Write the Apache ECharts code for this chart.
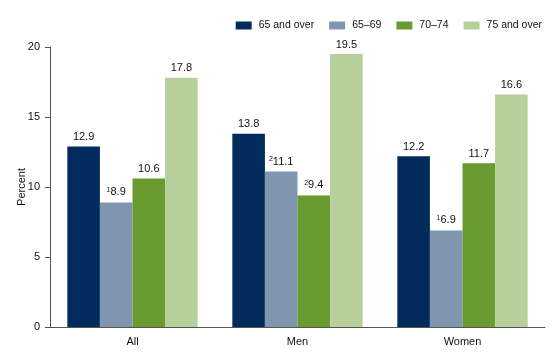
<!DOCTYPE html>
<html><head><meta charset="utf-8">
<script src="https://cdn.jsdelivr.net/npm/echarts@6/dist/echarts.min.js"></script>
<style>html,body{margin:0;padding:0;background:#fff}#c{width:560px;height:360px}</style>
</head><body><div id="c"></div>
<script>
var categories = ['All', 'Men', 'Women'];
var seriesNames = ['65 and over', '65\u201369', '70\u201374', '75 and over'];
var v65over = [12.9, 13.8, 12.2];
var v6569 = [8.9, 11.1, 6.9];
var v7074 = [10.6, 9.4, 11.7];
var v75over = [17.8, 19.5, 16.6];
var notes6569 = ['1', '2', '1'];
var notes7074 = ['', '2', ''];
var yTicks = [0, 5, 10, 15, 20];
var colors = ['#002b5c', '#7f95b0', '#6a9b30', '#b7d09b'];

var FONT = 'Liberation Sans, Arial, sans-serif';
function mk(name, vals, notes, color) {
  return {
    name: name, type: 'bar', data: vals, barGap: '0%', barCategoryGap: '21%',
    itemStyle: {color: color},
    label: {
      show: true, position: 'top', distance: 4, color: '#111', fontSize: 11, fontFamily: FONT,
      formatter: function (p) {
        var n = notes ? notes[p.dataIndex] : '';
        return (n ? '{s|' + n + '}' : '') + '{v|' + p.value.toFixed(1) + '}';
      },
      rich: {
        s: {fontSize: 7, fontFamily: FONT, color: '#111', verticalAlign: 'top', padding: [0, 0, 5, 0]},
        v: {fontSize: 11, fontFamily: FONT, color: '#111'}
      }
    }
  };
}
var chart = echarts.init(document.getElementById('c'), null, {renderer: 'canvas'});
chart.setOption({
  animation: false,
  textStyle: {fontFamily: FONT},
  legend: {
    top: 15, right: 13, itemWidth: 16, itemHeight: 8, itemGap: 15, icon: 'rect',
    textStyle: {fontSize: 10.5, color: '#111', fontFamily: FONT, padding: [0, 0, 0, 2]},
    data: seriesNames
  },
  grid: {left: 50, right: 15, top: 47, bottom: 33, containLabel: false},
  xAxis: {
    type: 'category', data: categories,
    axisLine: {lineStyle: {color: '#555', width: 1}},
    axisTick: {show: false},
    axisLabel: {fontSize: 11, color: '#111', margin: 9, fontFamily: FONT}
  },
  yAxis: {
    type: 'value', min: yTicks[0], max: yTicks[yTicks.length - 1], interval: 5,
    name: 'Percent', nameLocation: 'middle', nameGap: 23, nameMoveOverlap: false,
    nameTextStyle: {fontSize: 11, color: '#111', fontFamily: FONT},
    axisLine: {show: true, lineStyle: {color: '#555', width: 1}},
    axisTick: {show: true, length: 5, lineStyle: {color: '#555'}},
    splitLine: {show: false},
    axisLabel: {fontSize: 11, color: '#111', margin: 10, fontFamily: FONT}
  },
  series: [
    mk(seriesNames[0], v65over, null, colors[0]),
    mk(seriesNames[1], v6569, notes6569, colors[1]),
    mk(seriesNames[2], v7074, notes7074, colors[2]),
    mk(seriesNames[3], v75over, null, colors[3])
  ]
});
</script></body></html>
